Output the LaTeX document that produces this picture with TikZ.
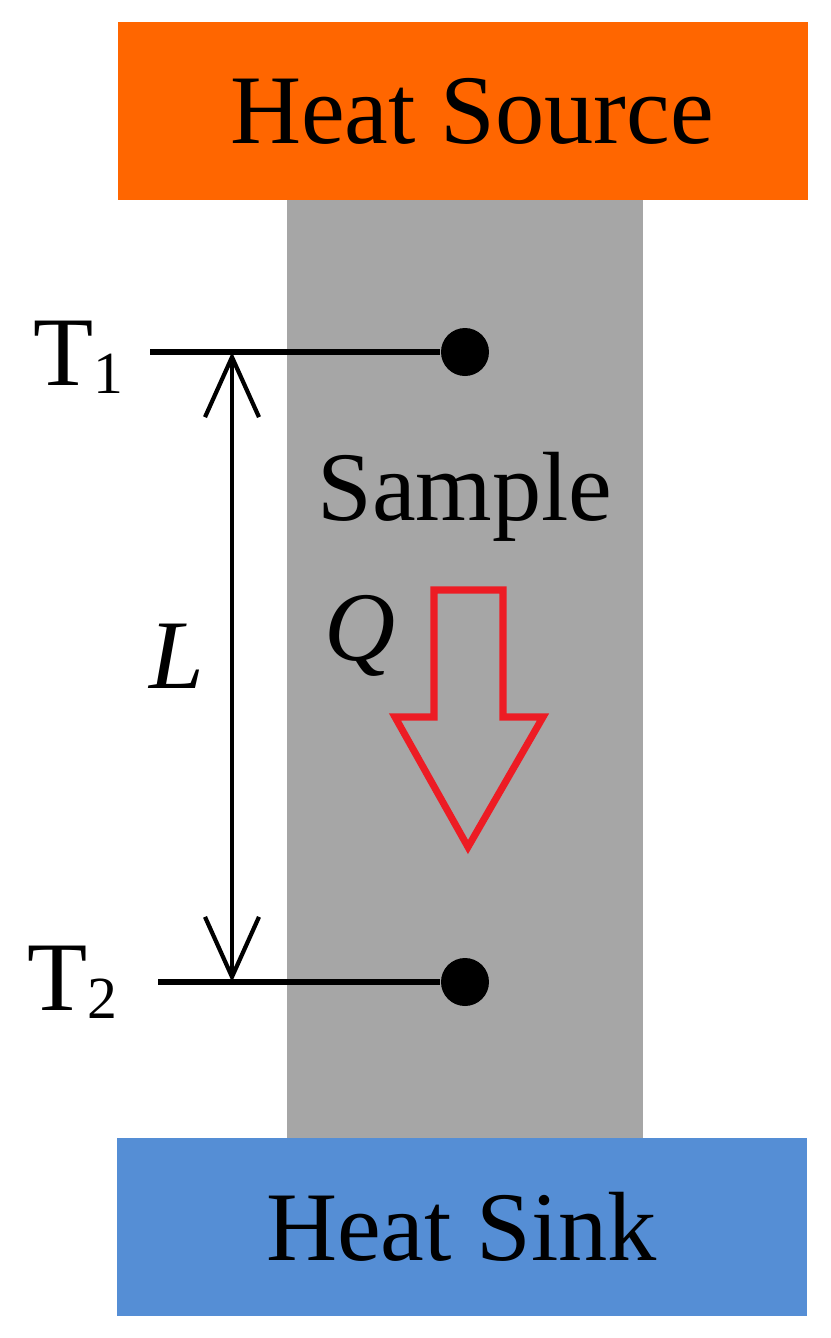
\documentclass[tikz,border=0pt]{standalone}
\usepackage{fontspec}
\setmainfont{Liberation Serif}
\usetikzlibrary{arrows.meta}
\definecolor{sourceorange}{RGB}{255,102,0}
\definecolor{sinkblue}{RGB}{85,142,213}
\definecolor{samplegray}{RGB}{166,166,166}
\definecolor{flowred}{RGB}{237,28,36}
\tikzset{
  block/.style={rectangle, inner sep=0pt, minimum width=6.9cm, minimum height=1.78cm, font=\fontsize{28}{32}\selectfont},
  probe/.style={circle, fill=black, inner sep=0pt, minimum size=0.48cm},
  lbl/.style={inner sep=0pt, font=\fontsize{28}{32}\selectfont},
  wire/.style={line width=1.6pt},
  dimline/.style={line width=1.2pt, {Straight Barb[length=6mm,width=5.4mm]}-{Straight Barb[length=6mm,width=5.4mm]}},
  flow/.style={draw=flowred, line width=2pt, miter limit=10},
}
\newcommand{\sub}[1]{\raisebox{-2.5pt}{\fontsize{17}{18}\selectfont #1}}

\begin{document}
\begin{tikzpicture}
\useasboundingbox (0,0) rectangle (8.30,-13.38);
% Nodes
\node[rectangle, fill=samplegray, minimum width=3.56cm, minimum height=9.40cm, inner sep=0pt] (sample) at (4.65,-6.70) {};
\node[block, fill=sourceorange] (source) at (4.63,-1.11) {\hspace{0.18cm}Heat Source};
\node[block, fill=sinkblue] (sink) at (4.615,-12.265) {Heat Sink};
\node[lbl, anchor=base] (samplelbl) at (4.65,-5.20) {Sample};
\node[lbl, anchor=base west] (t1) at (0.33,-3.85) {T\sub{1}};
\node[lbl, anchor=base west] (t2) at (0.27,-10.10) {T\sub{2}};
\node[lbl, anchor=base] (len) at (1.77,-6.88) {\itshape L};
\node[lbl, anchor=base] (heat) at (3.60,-6.60) {\itshape Q};
\node[probe] (dot1) at (4.65,-3.52) {};
\node[probe] (dot2) at (4.65,-9.82) {};
\coordinate (t1end) at (1.50,-3.52);
\coordinate (t2end) at (1.58,-9.82);
\coordinate (ltop) at (2.32,-3.52);
\coordinate (lbot) at (2.32,-9.82);
% Edges
\draw[wire] (t1end) -- (dot1);
\draw[wire] (t2end) -- (dot2);
\draw[dimline] (lbot) -- (ltop);
% Heat flow arrow
\draw[flow] (4.34,-5.90) -- (5.03,-5.90) -- (5.03,-7.17) -- (5.43,-7.17) -- (4.68,-8.47) -- (3.95,-7.17) -- (4.34,-7.17) -- cycle;
\end{tikzpicture}
\end{document}
